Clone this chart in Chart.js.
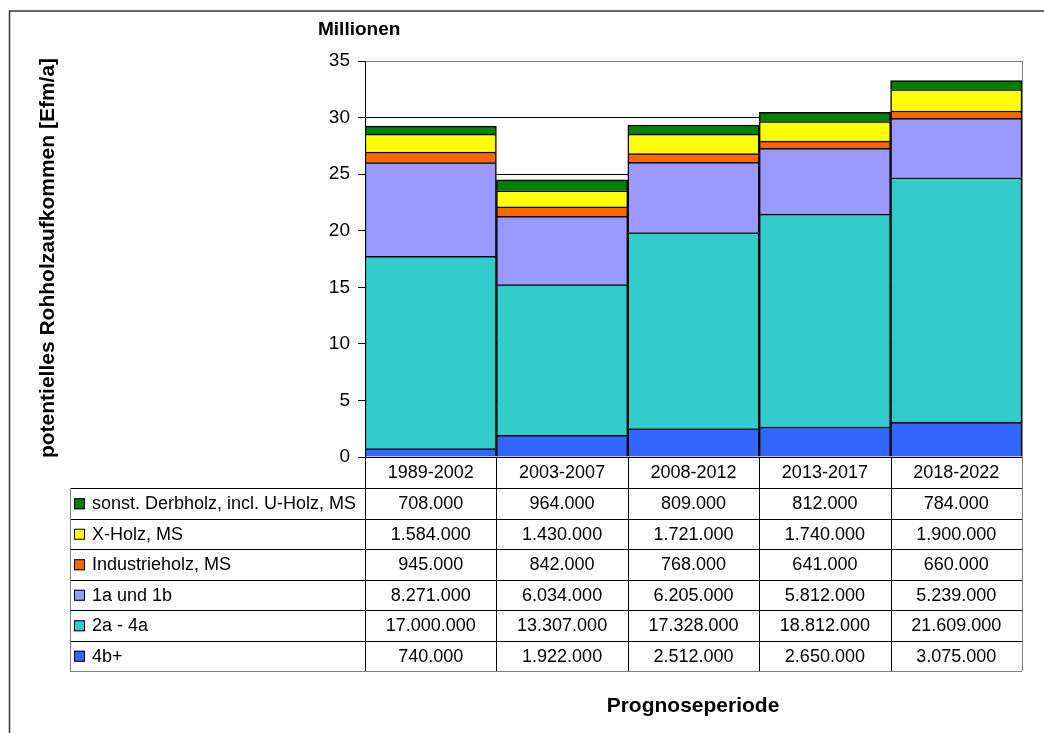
<!DOCTYPE html>
<html>
<head>
<meta charset="utf-8">
<script src="https://cdn.jsdelivr.net/npm/chart.js@4"></script>
<style>
  html, body { margin: 0; padding: 0; background: #fff; }
  #wrap { width: 1044px; height: 733px; position: relative; }
</style>
</head>
<body>
<div id="wrap"><canvas id="chart" width="1044" height="733"></canvas></div>
<script>
// categories and series (Efm/a)
const periods = ['1989-2002', '2003-2007', '2008-2012', '2013-2017', '2018-2022']
const sonstDerbholz = [708000, 964000, 809000, 812000, 784000]
const xHolz = [1584000, 1430000, 1721000, 1740000, 1900000]
const industrieholz = [945000, 842000, 768000, 641000, 660000]
const holz1a1b = [8271000, 6034000, 6205000, 5812000, 5239000]
const holz2a4a = [17000000, 13307000, 17328000, 18812000, 21609000]
const holz4b = [740000, 1922000, 2512000, 2650000, 3075000]
const yTicks = [0, 5, 10, 15, 20, 25, 30, 35]

const FONT = '"Liberation Sans", Arial, sans-serif'

// bottom to top in the stack
const series = [
  { label: '4b+', data: holz4b, colour: '#3366ff' },
  { label: '2a - 4a', data: holz2a4a, colour: '#33cccc' },
  { label: '1a und 1b', data: holz1a1b, colour: '#9999ff' },
  { label: 'Industrieholz, MS', data: industrieholz, colour: '#ff6600' },
  { label: 'X-Holz, MS', data: xHolz, colour: '#ffff00' },
  { label: 'sonst. Derbholz, incl. U-Holz, MS', data: sonstDerbholz, colour: '#008000' },
]

const fmt = (v) => String(v).replace(/\B(?=(\d{3})+(?!\d))/g, '.')

// draws frame, titles and the data table under the plot
const tablePlugin = {
  id: 'dataTable',
  afterDraw(chart) {
    const { ctx, chartArea } = chart
    const x = chart.scales.x
    const left = chartArea.left
    const right = chartArea.right
    const top0 = chartArea.bottom
    const headH = 31
    const rowH = 30.5
    const tableLeft = 70
    const rows = [...series].reverse()
    const tableBottom = top0 + headH + rows.length * rowH

    ctx.save()
    // outer frame
    ctx.strokeStyle = '#333'
    ctx.lineWidth = 1.5
    ctx.beginPath()
    ctx.moveTo(9.5, 733)
    ctx.lineTo(9.5, 11)
    ctx.lineTo(1044, 11)
    ctx.stroke()

    // right border of plot
    ctx.lineWidth = 1
    ctx.strokeStyle = '#808080'
    ctx.beginPath()
    ctx.moveTo(right + 0.5, chartArea.top)
    ctx.lineTo(right + 0.5, top0)
    ctx.stroke()

    // table lines
    ctx.strokeStyle = '#000'
    ctx.beginPath()
    for (let i = 0; i <= rows.length; i++) {
      const y = Math.round(top0 + headH + i * rowH) + 0.5
      ctx.moveTo(tableLeft, y)
      ctx.lineTo(right, y)
    }
    const colW = (right - left) / periods.length
    for (let i = 0; i <= periods.length; i++) {
      const xx = Math.round(left + i * colW) + 0.5
      ctx.moveTo(xx, top0)
      ctx.lineTo(xx, tableBottom)
    }
    ctx.stroke()
    ctx.strokeStyle = '#808080'
    ctx.beginPath()
    ctx.moveTo(tableLeft + 0.5, top0 + headH)
    ctx.lineTo(tableLeft + 0.5, tableBottom)
    ctx.moveTo(right + 0.5, top0)
    ctx.lineTo(right + 0.5, tableBottom)
    ctx.moveTo(tableLeft, Math.round(tableBottom) + 0.5)
    ctx.lineTo(right, Math.round(tableBottom) + 0.5)
    ctx.stroke()

    // texts
    ctx.fillStyle = '#000'
    ctx.font = `18px ${FONT}`
    ctx.textAlign = 'center'
    ctx.textBaseline = 'middle'
    periods.forEach((p, i) => {
      ctx.fillText(p, x.getPixelForValue(i), top0 + headH / 2 + 1)
    })
    rows.forEach((s, r) => {
      const cy = top0 + headH + r * rowH + rowH / 2 + 1
      ctx.textAlign = 'center'
      s.data.forEach((v, i) => {
        ctx.fillText(fmt(v), x.getPixelForValue(i), cy)
      })
      ctx.fillStyle = s.colour
      ctx.fillRect(74, cy - 6, 11, 11)
      ctx.strokeStyle = '#000'
      ctx.strokeRect(74.5, cy - 5.5, 10, 10)
      ctx.fillStyle = '#000'
      ctx.textAlign = 'left'
      ctx.fillText(s.label, 92, cy)
    })

    ctx.font = `bold 19px ${FONT}`
    ctx.textAlign = 'left'
    ctx.fillText('Millionen', 318, 30)
    ctx.textAlign = 'center'
    ctx.font = `bold 21px ${FONT}`
    ctx.fillText('Prognoseperiode', 693, 706)
    ctx.translate(48, 258)
    ctx.rotate(-Math.PI / 2)
    ctx.fillText('potentielles Rohholzaufkommen [Efm/a]', 0, 0)
    ctx.restore()
  },
}

new Chart(document.getElementById('chart'), {
  type: 'bar',
  data: {
    labels: periods,
    datasets: series.map((s) => ({
      label: s.label,
      data: s.data.map((v) => v / 1e6),
      backgroundColor: s.colour,
      borderColor: '#000',
      borderWidth: 1.5,
      barPercentage: 1,
      categoryPercentage: 1,
    })),
  },
  options: {
    responsive: false,
    animation: false,
    layout: { padding: { left: 305, top: 61, right: 22, bottom: 276 } },
    plugins: { legend: { display: false }, tooltip: { enabled: false } },
    scales: {
      x: { stacked: true, display: false },
      y: {
        stacked: true,
        min: 0,
        max: 35,
        afterFit: (s) => { s.width = 60 },
        afterBuildTicks: (s) => { s.ticks = yTicks.map((v) => ({ value: v })) },
        border: { display: true, color: '#000', width: 1 },
        grid: {
          color: (c) => (c.tick && c.tick.value === 35 ? '#808080' : '#000'),
          tickLength: 7,
          tickColor: '#000',
        },
        ticks: { color: '#000', padding: 8, font: { family: FONT, size: 19 } },
      },
    },
  },
  plugins: [tablePlugin],
})
</script>
</body>
</html>
